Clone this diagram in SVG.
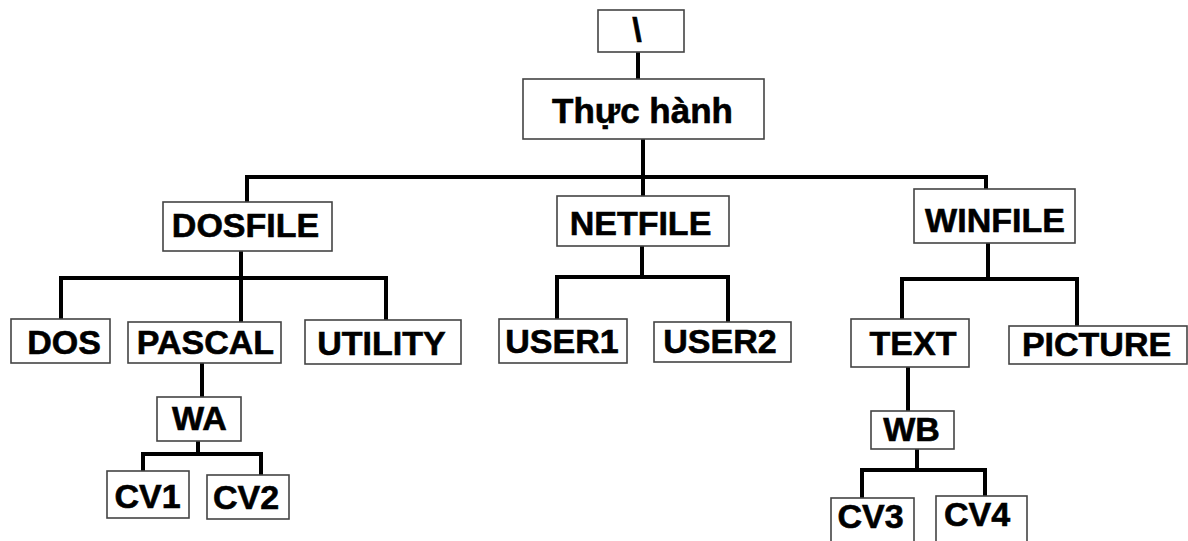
<svg xmlns="http://www.w3.org/2000/svg" width="1188" height="541" viewBox="0 0 1188 541">
<style>
.box{fill:#fff;stroke:#444;stroke-width:1.6}
.lbl{font-family:"Liberation Sans",Arial,sans-serif;font-weight:bold;font-size:34px;fill:#000;stroke:#000;stroke-width:0.6;text-anchor:middle}
.con{fill:none;stroke:#000;stroke-width:4;stroke-linecap:square;stroke-linejoin:miter}
</style>
<rect width="1188" height="541" fill="#fff"/>
<g id="connectors">
<path class="con" d="M638 52V79"/>
<path class="con" d="M643 139V177M247 202V177H986V190M643 177V196"/>
<path class="con" d="M241 251V278M61 319V278H386V320M241 278V322"/>
<path class="con" d="M202 363V397"/>
<path class="con" d="M198 441V454M143 471V454H261V475"/>
<path class="con" d="M642 246V277M557 319V277H728V324"/>
<path class="con" d="M988 243V279M902 319V279H1077V326"/>
<path class="con" d="M908 367V411"/>
<path class="con" d="M917 449V470M862 498V470H985V496"/>
</g>
<g id="root"><rect class="box" x="598" y="10" width="86" height="42"/><text class="lbl" x="637" y="41">\</text></g>
<g id="thuchanh"><rect class="box" x="523" y="79" width="241" height="60"/><text class="lbl" x="642.5" y="123" style="font-size:35px">Thực hành</text></g>
<g id="dosfile"><rect class="box" x="163" y="202" width="169" height="49"/><text class="lbl" x="245.5" y="237">DOSFILE</text></g>
<g id="netfile"><rect class="box" x="557" y="196" width="172" height="50"/><text class="lbl" x="640.5" y="235">NETFILE</text></g>
<g id="winfile"><rect class="box" x="914" y="189" width="161" height="54"/><text class="lbl" x="995" y="232">WINFILE</text></g>
<g id="dos"><rect class="box" x="11" y="319" width="99" height="44"/><text class="lbl" x="64" y="354">DOS</text></g>
<g id="pascal"><rect class="box" x="128" y="322" width="153" height="41"/><text class="lbl" x="205.5" y="354">PASCAL</text></g>
<g id="utility"><rect class="box" x="305" y="320" width="156" height="44"/><text class="lbl" x="381.5" y="355">UTILITY</text></g>
<g id="wa"><rect class="box" x="157" y="397" width="84" height="44"/><text class="lbl" x="199.5" y="430">WA</text></g>
<g id="cv1"><rect class="box" x="107" y="471" width="82" height="47"/><text class="lbl" x="147.5" y="508">CV1</text></g>
<g id="cv2"><rect class="box" x="207" y="475" width="82" height="44"/><text class="lbl" x="246" y="509">CV2</text></g>
<g id="user1"><rect class="box" x="499" y="319" width="128" height="44"/><text class="lbl" x="562" y="353">USER1</text></g>
<g id="user2"><rect class="box" x="654" y="322" width="137" height="40"/><text class="lbl" x="720" y="353">USER2</text></g>
<g id="text"><rect class="box" x="851" y="319" width="118" height="48"/><text class="lbl" x="913" y="355">TEXT</text></g>
<g id="picture"><rect class="box" x="1009" y="326" width="178" height="38"/><text class="lbl" x="1096.5" y="356">PICTURE</text></g>
<g id="wb"><rect class="box" x="871" y="411" width="83" height="38"/><text class="lbl" x="911.5" y="441">WB</text></g>
<g id="cv3"><rect class="box" x="831" y="498" width="83" height="60"/><text class="lbl" x="870.5" y="528">CV3</text></g>
<g id="cv4"><rect class="box" x="936" y="496" width="91" height="60"/><text class="lbl" x="977" y="526">CV4</text></g>
</svg>
